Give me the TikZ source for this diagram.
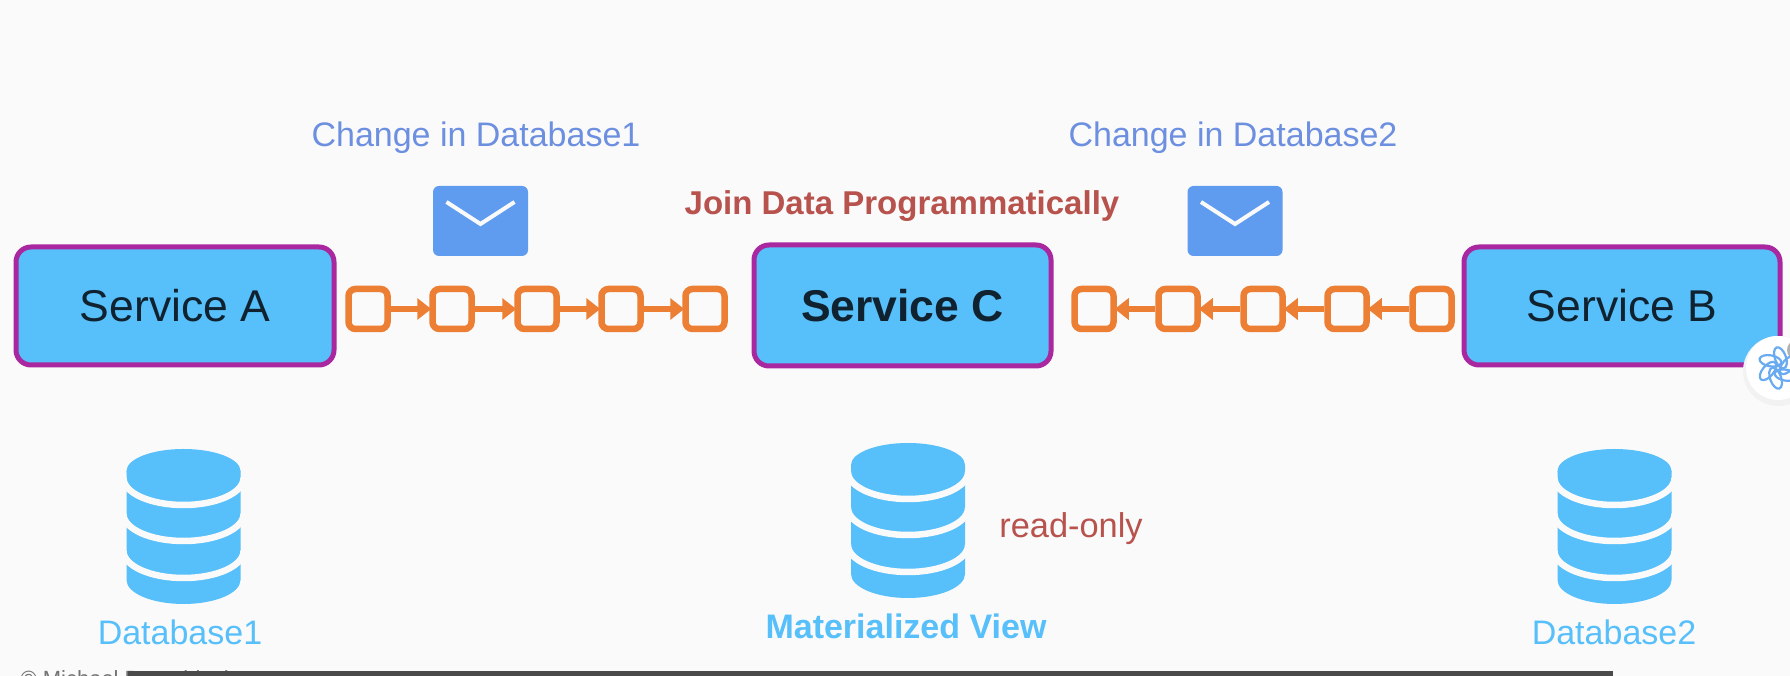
\documentclass[tikz,border=0pt]{standalone}
\usepackage{fontspec}
\setmainfont{Liberation Sans}
\usetikzlibrary{arrows.meta}
\definecolor{pagebg}{HTML}{FAFAFB}
\definecolor{boxblue}{HTML}{57BFF9}
\definecolor{boxline}{HTML}{A9289F}
\definecolor{boxtext}{HTML}{10222F}
\definecolor{linkorange}{HTML}{EC7F34}
\definecolor{mailblue}{HTML}{5F9CF0}
\definecolor{msgblue}{HTML}{6C8FE0}
\definecolor{joinred}{HTML}{B8524C}
\definecolor{barblack}{HTML}{4A4A4A}
\definecolor{logoblue}{HTML}{6AAAF0}
\begin{document}
\begin{tikzpicture}[x=1pt,y=1pt,
  service/.style={draw=boxline,fill=boxblue,line width=5pt,rounded corners=15pt,minimum height=118pt,text=boxtext,font=\fontsize{44.5}{50}\selectfont},
  link/.style={draw=linkorange,fill=pagebg,line width=6.5pt,rounded corners=7pt,minimum width=39pt,minimum height=40pt,inner sep=0pt},
  linkarrow/.style={draw=linkorange,line width=5.5pt,-{Triangle[length=14pt,width=21pt]},shorten >=-2pt},
  mail/.style={fill=mailblue,rounded corners=6pt,minimum width=95pt,minimum height=70pt,inner sep=0pt},
  flap/.style={draw=pagebg,line width=4pt},
  msgtext/.style={text=msgblue,font=\fontsize{34}{40}\selectfont},
  redtext/.style={text=joinred,font=\fontsize{34.4}{40}\selectfont},
  dbtext/.style={text=boxblue,font=\fontsize{34}{40}\selectfont},
  database/.pic={
    \fill[boxblue] (-57,0) -- (-57,-109) arc (180:360:57 and 24) -- (57,0) -- cycle;
    \draw[pagebg,line width=6.5pt] (-60,-7) arc (180:360:60 and 27);
    \draw[pagebg,line width=6.5pt] (-60,-43) arc (180:360:60 and 27);
    \draw[pagebg,line width=6.5pt] (-60,-80) arc (180:360:60 and 27);
    \fill[boxblue] (0,0) ellipse (57 and 22);
  }]
\useasboundingbox (0,0) rectangle (1790,676);
\clip (0,0) rectangle (1790,676);
\fill[pagebg] (0,0) rectangle (1790,676);
% services
\node[service,minimum width=318pt] (serviceA) at (175,370) {Service A};
\node[service,minimum width=297pt,minimum height=121pt,font=\fontsize{44.5}{50}\bfseries\selectfont] (serviceC) at (902.5,370.5) {Service C};
\node[service,minimum width=316pt] (serviceB) at (1622,370) {Service B};
% queue 1
\node[link] (qa1) at (368,367) {};
\node[link] (qa2) at (452,367) {};
\node[link] (qa3) at (537,367) {};
\node[link] (qa4) at (621,367) {};
\node[link] (qa5) at (705,367) {};
\draw[linkarrow] (qa1) -- (qa2);
\draw[linkarrow] (qa2) -- (qa3);
\draw[linkarrow] (qa3) -- (qa4);
\draw[linkarrow] (qa4) -- (qa5);
% queue 2
\node[link] (qb1) at (1432,367) {};
\node[link] (qb2) at (1347,367) {};
\node[link] (qb3) at (1263,367) {};
\node[link] (qb4) at (1178,367) {};
\node[link] (qb5) at (1094,367) {};
\draw[linkarrow] (qb1) -- (qb2);
\draw[linkarrow] (qb2) -- (qb3);
\draw[linkarrow] (qb3) -- (qb4);
\draw[linkarrow] (qb4) -- (qb5);
% envelopes
\node[mail] (mailA) at (480.5,455) {};
\draw[flap] ([xshift=-34pt,yshift=19pt]mailA.center) -- ([yshift=-3pt]mailA.center) -- ([xshift=34pt,yshift=19pt]mailA.center);
\node[mail] (mailB) at (1235,455) {};
\draw[flap] ([xshift=-34pt,yshift=19pt]mailB.center) -- ([yshift=-3pt]mailB.center) -- ([xshift=34pt,yshift=19pt]mailB.center);
% labels
\node[msgtext] (changeA) at (476,538) {Change in Database1};
\node[msgtext] (changeB) at (1233,538) {Change in Database2};
\node[redtext,font=\fontsize{33}{40}\bfseries\selectfont] (join) at (902,470) {Join Data Programmatically};
\node[redtext] (readonly) at (1071,147) {read-only};
% databases
\pic at (183.5,205) {database};
\pic at (908,211) {database};
\pic at (1614.5,205) {database};
\node[dbtext] (dbA) at (180,44) {Database1};
\node[dbtext,font=\fontsize{34}{40}\bfseries\selectfont] (view) at (906,50) {Materialized View};
\node[dbtext] (dbB) at (1614,44) {Database2};
% footer
\node[text=black!55,font=\fontsize{22}{26}\selectfont,anchor=base west] (credit) at (17,-11) {© Michael Pogrebinsky};
\fill[barblack] (128,0) rectangle (1613,5);
% widget
\fill[black!5] (1778,305) circle (35);
\fill[white] (1778,308) circle (32);
\fill[black!30] (1797,326) circle (10);
\foreach \a in {0,60,...,300} \draw[logoblue,line width=2.2pt,rotate around={\a:(1778,308)}] (1788,311) ellipse [x radius=11,y radius=5.5,rotate=50];
\end{tikzpicture}
\end{document}
